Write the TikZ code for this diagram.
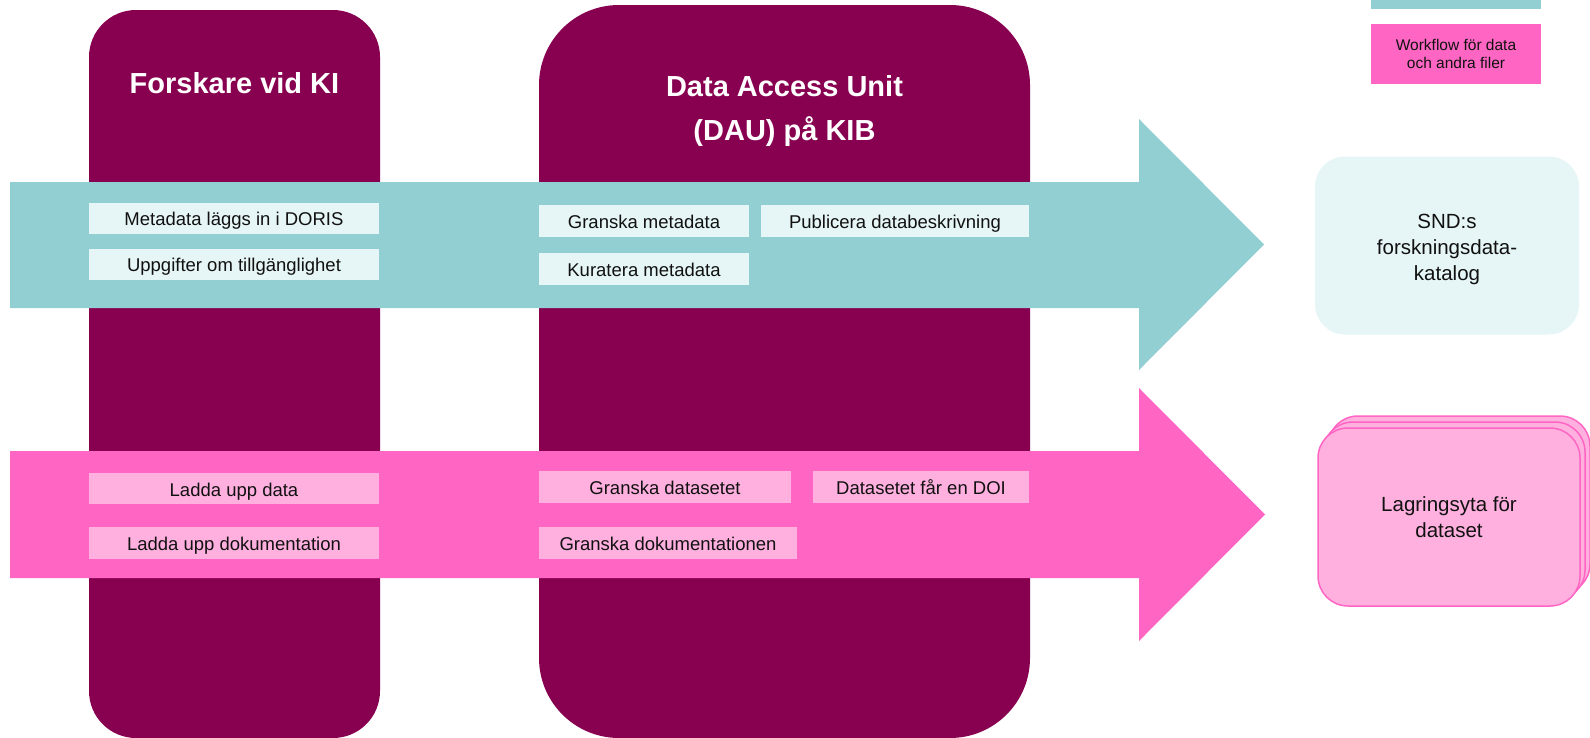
\documentclass[tikz,border=0pt]{standalone}
\usepackage{fontspec}
\setmainfont{Liberation Sans}
\usetikzlibrary{positioning}
\definecolor{Plum}{RGB}{136,0,80}
\definecolor{Teal}{RGB}{146,207,211}
\definecolor{TealLight}{RGB}{230,245,245}
\definecolor{Pink}{RGB}{255,102,196}
\definecolor{PinkLight}{RGB}{255,176,223}
\definecolor{Ink}{RGB}{17,17,17}

\begin{document}
\begin{tikzpicture}[x=1pt, y=-1pt,
    lane/.style={fill=Plum},
    heading/.style={text=white, font=\fontsize{29}{44}\selectfont\bfseries, align=center},
    task/.style={fill=TealLight, text=Ink, minimum height=31pt, inner sep=0pt, text height=18pt, text depth=2.5pt, font=\fontsize{18.5}{22}\selectfont},
    filetask/.style={task, fill=PinkLight},
    catalog/.style={rounded corners=30pt, minimum width=264pt, minimum height=178pt, align=center, text=Ink, font=\fontsize{20.5}{26}\selectfont},
    stackbox/.style={catalog, minimum width=262pt, draw=Pink, fill=PinkLight, line width=1.5pt},
    legendbox/.style={minimum width=170pt, inner sep=0pt, align=center, text=Ink, font=\fontsize{15.5}{18}\selectfont}
  ]
  \useasboundingbox (0,0) rectangle (1590,737);
  \clip (0,0) rectangle (1590,737);

  % lanes
  \fill[lane, rounded corners=47pt] (89,10) rectangle (380,738);
  \fill[lane, rounded corners=80pt] (539,5) rectangle (1030,738);
  \node[heading] (forskare) at (234.5,83) {Forskare vid KI};
  \node[heading] (dau) at (784.5,111) {Data Access Unit\\(DAU) på KIB};

  % workflow arrows
  \fill[Teal] (10,182) -- (1139,182) -- (1139,119) -- (1264,244.5) -- (1139,370) -- (1139,308) -- (10,308) -- cycle;
  \fill[Pink] (10,451) -- (1139,451) -- (1139,388) -- (1265,514.5) -- (1139,641) -- (1139,578) -- (10,578) -- cycle;

  % metadata
  \node[task, minimum width=290pt] (doris) at (234,218) {Metadata läggs in i DORIS};
  \node[task, minimum width=290pt] (tillg) at (234,264) {Uppgifter om tillgänglighet};
  \node[task, minimum width=210pt, minimum height=32pt] (granskaMeta) at (644,221) {Granska metadata};
  \node[task, minimum width=268pt, minimum height=32pt] (publicera) at (895,221) {Publicera databeskrivning};
  \node[task, minimum width=210pt, minimum height=32pt] (kuratera) at (644,269) {Kuratera metadata};

  % data och filer
  \node[filetask, minimum width=290pt] (laddaData) at (234,488.5) {Ladda upp data};
  \node[filetask, minimum width=290pt, minimum height=32pt] (laddaDok) at (234,543) {Ladda upp dokumentation};
  \node[filetask, minimum width=252pt, minimum height=32pt] (granskaData) at (665,487) {Granska datasetet};
  \node[filetask, minimum width=216pt, minimum height=32pt] (doi) at (921,487) {Datasetet får en DOI};
  \node[filetask, minimum width=258pt, minimum height=32pt] (granskaDok) at (668,543) {Granska dokumentationen};

  % destinations
  \node[catalog, fill=TealLight] (snd) at (1447,245.5) {};
  \node[align=center, text=Ink, font=\fontsize{20.5}{26}\selectfont] (sndText) at (1447,249) {SND:s\\forskningsdata-\\katalog};
  \node[stackbox] (lager3) at (1459,505) {};
  \node[stackbox] (lager2) at (1454,511) {};
  \node[stackbox] (lager) at (1449,517) {Lagringsyta för\\dataset};

  % legend
  \node[legendbox, fill=Teal, minimum height=28pt] (legendMeta) at (1456,-5) {};
  \node[legendbox, fill=Pink, minimum height=60pt] (legendFile) at (1456,54) {Workflow för data\\och andra filer};
\end{tikzpicture}
\end{document}
